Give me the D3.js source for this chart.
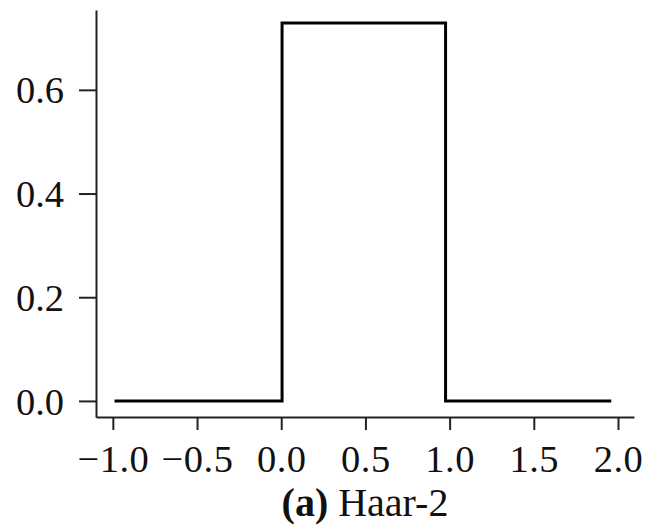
<!DOCTYPE html>
<html>
<head>
<meta charset="utf-8">
<script src="https://cdn.jsdelivr.net/npm/d3@7"></script>
<style>
  html, body { margin: 0; padding: 0; background: #fff; }
  svg { display: block; }
</style>
</head>
<body>
<svg id="chart" width="647" height="531"></svg>
<script>
// Haar-2 scaling function, sampled as a step curve
const xs = [-0.99, 0.005, 0.005, 0.976, 0.976, 1.96];
const ys = [0, 0, 0.729, 0.729, 0, 0];
const xTicks = [-1.0, -0.5, 0.0, 0.5, 1.0, 1.5, 2.0];
const yTicks = [0.0, 0.2, 0.4, 0.6];
const captionBold = "(a)";
const captionText = "Haar-2";

const svg = d3.select("#chart");
const font = "'Liberation Serif', 'Times New Roman', serif";

const x = d3.scaleLinear().domain([-1.1, 2.095]).range([96, 634]);
const y = d3.scaleLinear().domain([-0.031, 0.754]).range([417, 10]);

const fmt = d => (d < 0 ? "\u2212" : "") + Math.abs(d).toFixed(1);

// x axis
const gx = svg.append("g")
  .attr("transform", `translate(0,${y.range()[0]})`)
  .call(d3.axisBottom(x).tickValues(xTicks).tickSize(13).tickSizeOuter(0).tickPadding(15).tickFormat(fmt));

// y axis
const gy = svg.append("g")
  .attr("transform", `translate(${x.range()[0]},0)`)
  .call(d3.axisLeft(y).tickValues(yTicks).tickSize(17).tickSizeOuter(0).tickPadding(15).tickFormat(fmt));

[gx, gy].forEach(g => {
  g.select(".domain").attr("stroke", "#222").attr("stroke-width", 2);
  g.selectAll(".tick line").attr("stroke", "#222").attr("stroke-width", 2);
  g.selectAll(".tick text")
    .attr("fill", "#111")
    .style("font-family", font)
    .style("font-size", "38.5px");
});
gy.selectAll(".tick text").attr("dy", "0.34em");
gx.selectAll(".tick text").attr("letter-spacing", "0.5px");

// step curve
const pts = xs.map((v, i) => [v, ys[i]]);
svg.append("path")
  .datum(pts)
  .attr("fill", "none")
  .attr("stroke", "#000")
  .attr("stroke-width", 3)
  .attr("stroke-linejoin", "miter")
  .attr("d", d3.line().x(d => x(d[0])).y(d => y(d[1])));

// caption
const cap = svg.append("text")
  .attr("x", (x.range()[0] + x.range()[1]) / 2)
  .attr("y", 516)
  .attr("text-anchor", "middle")
  .attr("fill", "#111")
  .style("font-family", font)
  .style("font-size", "40px");
cap.append("tspan").attr("font-weight", "bold").text(captionBold);
cap.append("tspan").text(" " + captionText);
</script>
</body>
</html>
